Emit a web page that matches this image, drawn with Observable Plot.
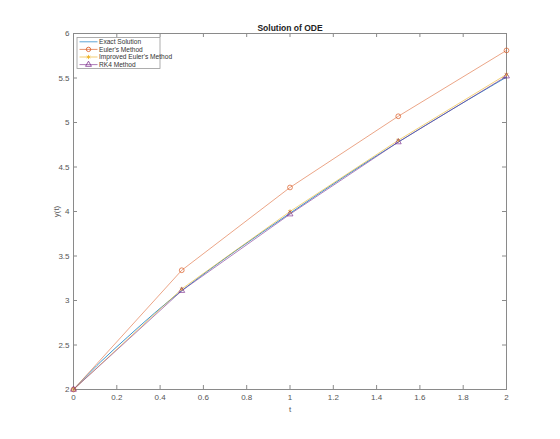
<!DOCTYPE html>
<html>
<head>
<meta charset="utf-8">
<script src="https://cdn.jsdelivr.net/npm/d3@7"></script>
<script src="https://cdn.jsdelivr.net/npm/@observablehq/plot@0.6"></script>
<style>
  html, body { margin: 0; padding: 0; background: #fff; }
  #wrap { position: relative; width: 560px; height: 439px; font-family: "Liberation Sans", Arial, sans-serif; }
  #legend { position: absolute; left: 0; top: 0; }
</style>
</head>
<body>
<div id="wrap"></div>
<script>
// ---- data ----
const exactT = [0, 0.125, 0.25, 0.375, 0.5, 0.75, 1, 1.25, 1.5, 1.75, 2];
const exactY = [2, 2.31, 2.59, 2.86, 3.11, 3.56, 3.98, 4.39, 4.78, 5.15, 5.51];
const stepT = [0, 0.5, 1, 1.5, 2];
const eulerY = [2, 3.34, 4.27, 5.07, 5.81];
const improvedY = [2, 3.13, 4.00, 4.80, 5.54];
const rk4Y = [2, 3.11, 3.97, 4.78, 5.52];
const xTicks = [0, 0.2, 0.4, 0.6, 0.8, 1, 1.2, 1.4, 1.6, 1.8, 2];
const yTicks = [2, 2.5, 3, 3.5, 4, 4.5, 5, 5.5, 6];
const seriesNames = ["Exact Solution", "Euler's Method", "Improved Euler's Method", "RK4 Method"];
const seriesColors = ["#0072BD", "#D95319", "#EDB120", "#7E2F8E"];
const seriesSymbols = [null, "circle", "asterisk", "triangle"];
const titleText = "Solution of ODE";

const exact = exactT.map((t, i) => ({t, y: exactY[i]}));
const euler = stepT.map((t, i) => ({t, y: eulerY[i]}));
const improved = stepT.map((t, i) => ({t, y: improvedY[i]}));
const rk4 = stepT.map((t, i) => ({t, y: rk4Y[i]}));

const W = 560, H = 439;
const mL = 73, mR = 54, mT = 33, mB = 50;
const frameH = H - mT - mB;
const frameW = W - mL - mR;
const tickLen = 4;
const axisColor = "#8a8a8a";
const textColor = "#555";

const chart = Plot.plot({
  width: W, height: H,
  marginLeft: mL, marginRight: mR, marginTop: mT, marginBottom: mB,
  style: {fontFamily: "Liberation Sans, Arial, sans-serif", background: "#fff"},
  x: {domain: [0, 2]},
  y: {domain: [2, 6]},
  marks: [
    Plot.frame({stroke: axisColor, strokeWidth: 1}),
    // inward ticks
    Plot.tickX(xTicks, {x: d => d, stroke: axisColor, insetTop: frameH - tickLen}),
    Plot.tickX(xTicks, {x: d => d, stroke: axisColor, insetBottom: frameH - tickLen}),
    Plot.tickY(yTicks, {y: d => d, stroke: axisColor, insetRight: frameW - tickLen}),
    Plot.tickY(yTicks, {y: d => d, stroke: axisColor, insetLeft: frameW - tickLen}),
    Plot.axisX({ticks: xTicks, tickSize: 0, tickPadding: 5, fontSize: 8, fill: textColor,
      tickFormat: d => String(d), label: "t", labelAnchor: "center", labelArrow: "none", labelOffset: 22}),
    Plot.axisY({ticks: yTicks, tickSize: 0, tickPadding: 4, fontSize: 8, fill: textColor,
      tickFormat: d => String(d), label: "y(t)", labelAnchor: "center", labelArrow: "none", labelOffset: 20}),
    // series
    Plot.line(exact, {x: "t", y: "y", stroke: seriesColors[0], strokeWidth: 0.9, strokeOpacity: 0.85, curve: "catmull-rom"}),
    Plot.line(euler, {x: "t", y: "y", stroke: seriesColors[1], strokeWidth: 0.7, strokeOpacity: 0.75}),
    Plot.dot(euler, {x: "t", y: "y", stroke: seriesColors[1], symbol: "circle", r: 2.4, strokeWidth: 0.8, strokeOpacity: 0.85}),
    Plot.line(improved, {x: "t", y: "y", stroke: seriesColors[2], strokeWidth: 0.8, strokeOpacity: 0.75}),
    Plot.dot(improved, {x: "t", y: "y", stroke: seriesColors[2], symbol: "asterisk", r: 2, strokeWidth: 0.8}),
    Plot.line(rk4, {x: "t", y: "y", stroke: seriesColors[3], strokeWidth: 0.8, strokeOpacity: 0.75}),
    Plot.dot(rk4, {x: "t", y: "y", stroke: seriesColors[3], symbol: "triangle", r: 2.2, strokeWidth: 0.8, strokeOpacity: 0.85}),
    // title
    Plot.text([titleText], {frameAnchor: "top", dy: -9, text: d => d, fontSize: 8.5, fontWeight: "bold", fill: "#222"})
  ]
});
document.getElementById("wrap").appendChild(chart);

// legend overlay
const lg = d3.select("#wrap").append("svg").attr("id", "legend").attr("width", W).attr("height", H);
const lx = 77, ly = 37.5, lw = 83, lh = 31;
lg.append("rect").attr("x", lx).attr("y", ly).attr("width", lw).attr("height", lh)
  .attr("fill", "#fff").attr("stroke", "#999").attr("stroke-width", 0.8);
seriesNames.forEach((name, i) => {
  const yy = ly + 4.3 + i * 7.6;
  lg.append("line").attr("x1", lx + 2.5).attr("x2", lx + 20.5).attr("y1", yy).attr("y2", yy)
    .attr("stroke", seriesColors[i]).attr("stroke-width", 0.8).attr("stroke-opacity", 0.8);
  const sym = seriesSymbols[i];
  if (sym) {
    const s = (sym === "circle" ? d3.symbolCircle : sym === "asterisk" ? d3.symbolAsterisk : d3.symbolTriangle);
    lg.append("path").attr("d", d3.symbol(s, sym === "asterisk" ? 12 : 15)())
      .attr("transform", `translate(${lx + 11.5},${yy})`)
      .attr("fill", "none").attr("stroke", seriesColors[i]).attr("stroke-width", 0.8);
  }
  lg.append("text").attr("x", lx + 22).attr("y", yy).attr("dy", "0.35em")
    .attr("font-size", 6.6).attr("fill", "#333").attr("font-family", "Liberation Sans, Arial, sans-serif")
    .text(name);
});
</script>
</body>
</html>
